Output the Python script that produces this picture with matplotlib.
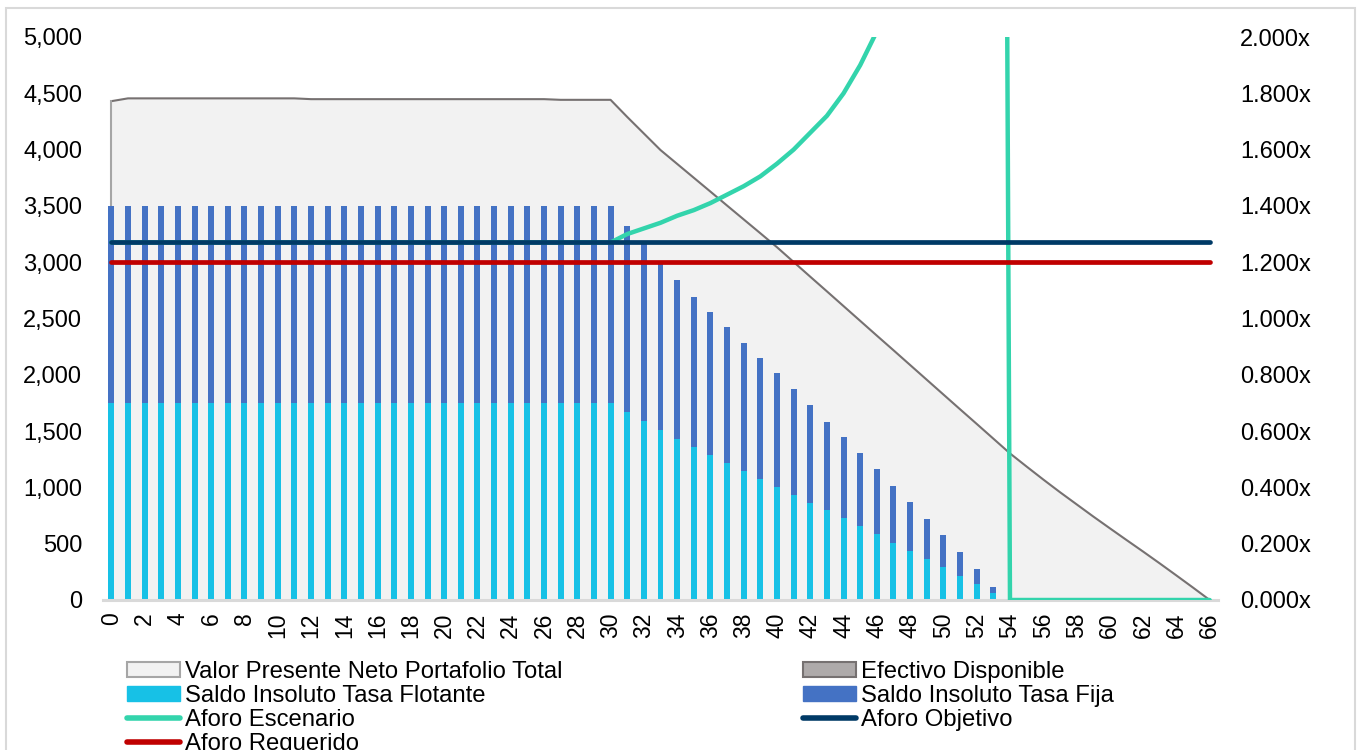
import matplotlib
matplotlib.use('Agg')
import matplotlib.pyplot as plt
from matplotlib.patches import Patch, Rectangle
from matplotlib.lines import Line2D
from matplotlib.ticker import FuncFormatter

plt.rcParams['font.family'] = ['Liberation Sans', 'DejaVu Sans']

periods = list(range(67))

# Valor Presente Neto Portafolio Total
vpn = ([4430] + [4455] * 11 + [4448] * 15 + [4442] * 4 +
       [4290, 4143, 3996, 3873, 3750, 3627, 3503, 3380, 3257, 3133,
        3002, 2871, 2741, 2610, 2479, 2348, 2218, 2087, 1956, 1825,
        1694, 1564, 1433, 1302, 1185, 1070, 958, 850, 742, 637,
        533, 430, 325, 218, 110, 0])

# Efectivo Disponible (not visible in the chart)
cash = [0] * 67

floating = ([1750] * 31 +
            [1670, 1590, 1510, 1430, 1355, 1285, 1215, 1145, 1075, 1005,
             935, 865, 799, 728, 657, 586, 506, 435, 364, 293,
             216, 142, 65] + [0] * 13)

fixed = ([1750] * 31 +
         [1655, 1585, 1475, 1410, 1337, 1274, 1208, 1139, 1076, 1010,
          938, 866, 786, 719, 647, 576, 506, 434, 355, 284,
          210, 133, 52] + [0] * 13)

aforo_escenario = ([1.27] * 31 +
                   [1.30, 1.32, 1.34, 1.365, 1.385, 1.41, 1.44, 1.47, 1.505, 1.55,
                    1.60, 1.66, 1.72, 1.80, 1.90, 2.02, 2.19, 2.40, 2.72, 3.16,
                    3.98, 5.69, 12.25] + [0] * 13)
aforo_objetivo = [1.27] * 67
aforo_requerido = [1.20] * 67

C_AREA = '#F2F2F2'
C_AREA_EDGE = '#767171'
C_CASH = '#AEAAAA'
C_FLOAT = '#17C1E6'
C_FIXED = '#4472C4'
C_ESC = '#33D4AC'
C_OBJ = '#003A66'
C_REQ = '#C00000'

W, H = 1361, 750
fig = plt.figure(figsize=(W / 100, H / 100), dpi=100)
ax = fig.add_axes([103 / W, 1 - 600 / H, (1218 - 103) / W, (600 - 37) / H])
ax2 = ax.twinx()

# area + bars on the left axis
ax.fill_between(periods, 0, vpn, color=C_AREA, lw=0, zorder=0)
ax.plot(periods, vpn, color=C_AREA_EDGE, lw=1.5, zorder=1)
ax.plot([periods[0], periods[0]], [0, vpn[0]], color='#A6A6A6', lw=1.5, zorder=1)
top = [v + c for v, c in zip(vpn, cash)]
ax.fill_between(periods, vpn, top, color=C_CASH, lw=0, zorder=1)

ax.bar(periods, floating, width=0.36, color=C_FLOAT, zorder=2)
ax.bar(periods, fixed, width=0.36, bottom=floating, color=C_FIXED, zorder=2)

# ratios on the right axis
ax2.plot(periods, aforo_escenario, color=C_ESC, lw=3.2, solid_capstyle='round',
         solid_joinstyle='round')
ax2.plot(periods, aforo_objetivo, color=C_OBJ, lw=3.4, solid_capstyle='round')
ax2.plot(periods, aforo_requerido, color=C_REQ, lw=3.4, solid_capstyle='round')

ax.set_xlim(-0.5, 66.5)
ax.set_ylim(0, 5000)
ax2.set_ylim(0, 2.0)
ax.set_yticks(range(0, 5001, 500))
ax2.set_yticks([i * 0.2 for i in range(11)])
ax.yaxis.set_major_formatter(FuncFormatter(lambda v, p: f'{v:,.0f}'))
ax2.yaxis.set_major_formatter(FuncFormatter(lambda v, p: f'{v:.3f}x'))
ax.set_xticks(periods[::2])
ax.set_xticklabels([str(p) for p in periods[::2]], rotation=90)

for a in (ax, ax2):
    for s in ('top', 'left', 'right', 'bottom'):
        a.spines[s].set_visible(False)
ax.spines['bottom'].set_visible(True)
ax.spines['bottom'].set_color('#D9D9D9')
ax.spines['bottom'].set_linewidth(2.2)

ax.tick_params(axis='y', length=0, pad=15, labelsize=17)
ax.tick_params(axis='x', length=0, pad=9, labelsize=16.5)
ax2.tick_params(axis='y', length=0, pad=16, labelsize=17)

# legend
fs = 17.2
handles = [
    Patch(facecolor=C_AREA, edgecolor='#A6A6A6', lw=1.5),
    Patch(facecolor=C_FLOAT, edgecolor=C_FLOAT),
    Line2D([], [], color=C_ESC, lw=4, solid_capstyle='round'),
    Line2D([], [], color=C_REQ, lw=4, solid_capstyle='round'),
    Patch(facecolor=C_CASH, edgecolor=C_AREA_EDGE, lw=1.5),
    Patch(facecolor=C_FIXED, edgecolor=C_FIXED),
    Line2D([], [], color=C_OBJ, lw=4, solid_capstyle='round'),
]
labels = ['Valor Presente Neto Portafolio Total', 'Saldo Insoluto Tasa Flotante',
          'Aforo Escenario', 'Aforo Requerido', 'Efectivo Disponible',
          'Saldo Insoluto Tasa Fija', 'Aforo Objetivo']
fig.legend(handles, labels, ncol=2, loc='upper left',
           bbox_to_anchor=(127 / W, 1 - 661 / H), frameon=False, fontsize=fs,
           borderpad=0, borderaxespad=0, handlelength=2.22, handleheight=0.6,
           handletextpad=0.21, labelspacing=0.09, columnspacing=10.05)

fig.patches.append(Rectangle((6 / W, -0.1), (1355 - 6) / W, 1.1 - 8 / H,
                             transform=fig.transFigure, fill=False,
                             edgecolor='#D9D9D9', lw=1.5))

fig.savefig('out.png', dpi=100)
